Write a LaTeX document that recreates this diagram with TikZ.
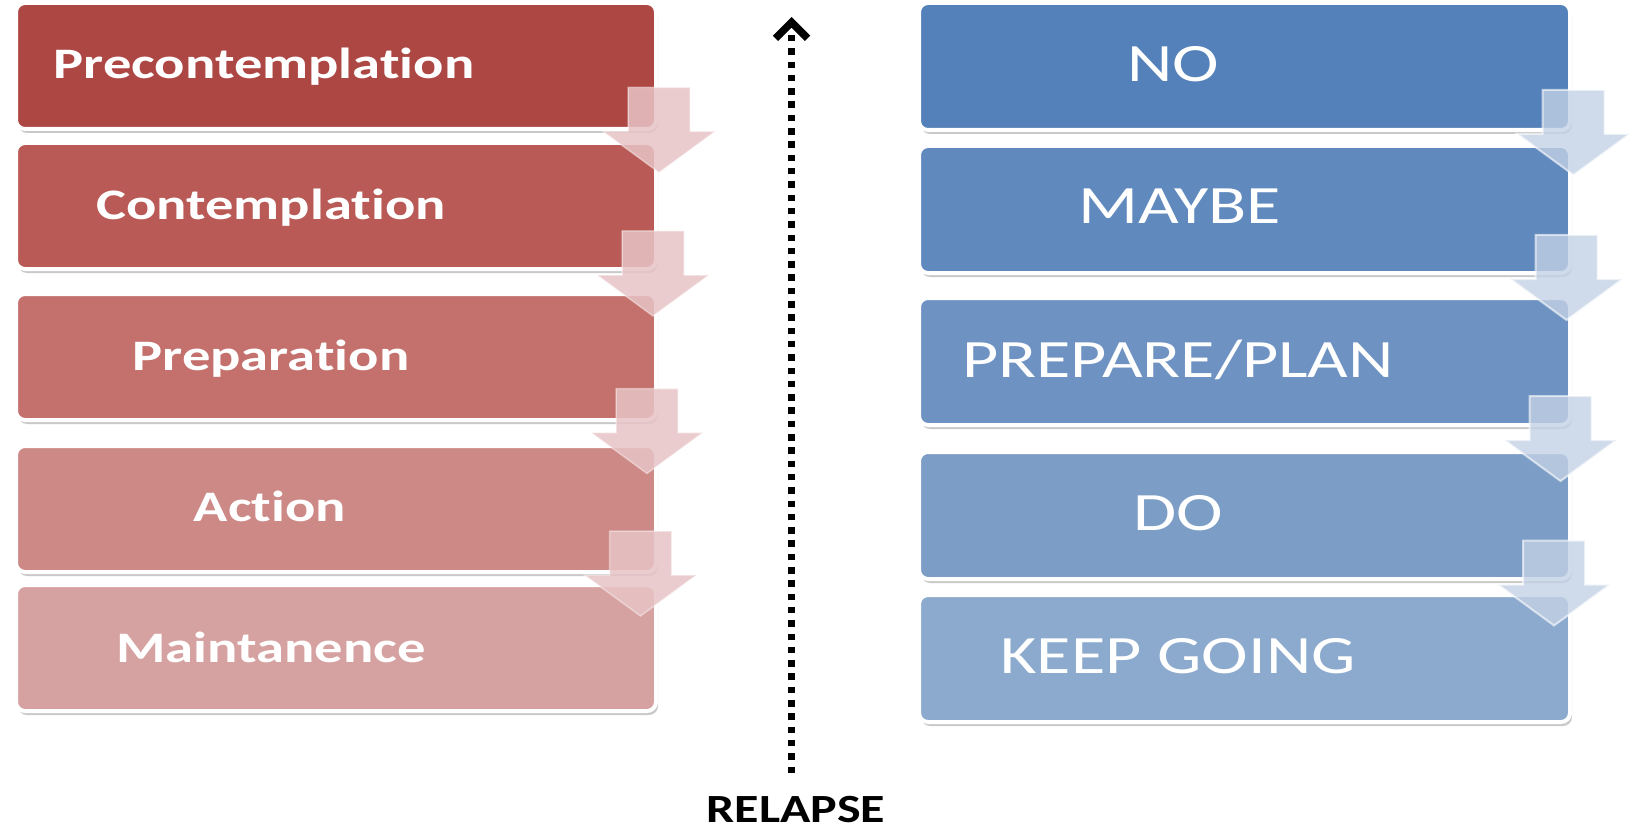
\documentclass[tikz,border=0pt]{standalone}
\usepackage{fontspec}
\newfontfamily\labfont[FakeStretch=1.3,RawFeature={-liga}]{Carlito}
\newfontfamily\relfont[FakeStretch=1.25,RawFeature={-liga}]{Carlito}
\usetikzlibrary{shadows,arrows.meta}
\definecolor{La}{RGB}{173,71,68}
\definecolor{Lb}{RGB}{185,90,86}
\definecolor{Lc}{RGB}{196,112,109}
\definecolor{Ld}{RGB}{205,137,134}
\definecolor{Le}{RGB}{214,162,161}
\definecolor{Ra}{RGB}{84,129,185}
\definecolor{Rb}{RGB}{96,137,190}
\definecolor{Rc}{RGB}{110,147,194}
\definecolor{Rd}{RGB}{124,158,198}
\definecolor{Re}{RGB}{140,170,205}
\definecolor{LArr}{RGB}{232,196,198}
\definecolor{RArr}{RGB}{195,209,229}
\tikzset{
  stagebox/.style={rectangle, rounded corners=9pt, draw=white, line width=4pt, inner sep=0pt,
    drop shadow={shadow xshift=2pt, shadow yshift=-4pt, opacity=0.35, fill=black!60}},
  lbox/.style={stagebox, minimum width=640pt, minimum height=126pt},
  rbox/.style={stagebox, minimum width=651pt, minimum height=127pt},
  ltext/.style={text=white, font=\labfont\fontsize{43.5}{44}\selectfont\bfseries, anchor=base, inner sep=0pt},
  rtext/.style={text=white, font=\labfont\fontsize{54}{55}\selectfont, anchor=base, inner sep=0pt},
  larrow/.style={fill=LArr, fill opacity=0.85, draw=white, draw opacity=0.4, line width=1.5pt},
  rarrow/.style={fill=RArr, fill opacity=0.8, draw=white, draw opacity=0.6, line width=2pt},
  barrow/.pic={\path[pic actions] (-31,0) -- (31,0) -- (31,44) -- (56,44) -- (0,85) -- (-56,44) -- (-31,44) -- cycle;},
  dotline/.style={line width=6.5pt, dash pattern=on 6.5pt off 6.8pt, -{Straight Barb[length=16pt,width=32pt,line width=7.5pt]}},
  reltext/.style={font=\relfont\fontsize{40}{40}\selectfont\bfseries, anchor=base, inner sep=0pt, text depth=0pt, text=black}
}
\begin{document}
\begin{tikzpicture}[x=1pt,y=-1pt]
\useasboundingbox[fill=white] (0,0) rectangle (1633,829);
% left boxes
\node[lbox, fill=La] (l1) at (336,66) {};
\node[lbox, fill=Lb] (l2) at (336,206) {};
\node[lbox, fill=Lc] (l3) at (336,357) {};
\node[lbox, fill=Ld] (l4) at (336,509) {};
\node[lbox, fill=Le] (l5) at (336,648) {};
% right boxes
\node[rbox, fill=Ra] (r1) at (1244.5,66.5) {};
\node[rbox, fill=Rb] (r2) at (1244.5,209.5) {};
\node[rbox, fill=Rc] (r3) at (1244.5,361.5) {};
\node[rbox, fill=Rd] (r4) at (1244.5,515.5) {};
\node[rbox, fill=Re] (r5) at (1244.5,658.5) {};
% left labels
\node[ltext] (lt1) at (264,79) {Precontemplation};
\node[ltext] (lt2) at (271,219) {Contemplation};
\node[ltext] (lt3) at (271,370) {Preparation};
\node[ltext] (lt4) at (270,521) {Action};
\node[ltext] (lt5) at (271,662) {Maintanence};
% right labels
\node[rtext] (rt1) at (1173,82) {NO};
\node[rtext] (rt2) at (1180,224) {MAYBE};
\node[rtext] (rt3) at (1178,377) {PREPARE/PLAN};
\node[rtext] (rt4) at (1178,530) {DO};
\node[rtext] (rt5) at (1178,673) {KEEP GOING};
% block arrows left
\pic[larrow] at (659,87.5) {barrow};
\pic[larrow] at (653,231) {barrow};
\pic[larrow] at (647,388.5) {barrow};
\pic[larrow] at (640.5,531) {barrow};
% block arrows right
\pic[rarrow] at (1573.5,90) {barrow};
\pic[rarrow] at (1566.5,235) {barrow};
\pic[rarrow] at (1560.5,396) {barrow};
\pic[rarrow] at (1554,540.5) {barrow};
% relapse
\node[reltext] (relapse) at (796,822) {RELAPSE};
\coordinate (rbot) at (791.5,773);
\coordinate (rtop) at (791.5,17);
\draw[dotline] (rbot) -- (rtop);
\end{tikzpicture}
\end{document}
